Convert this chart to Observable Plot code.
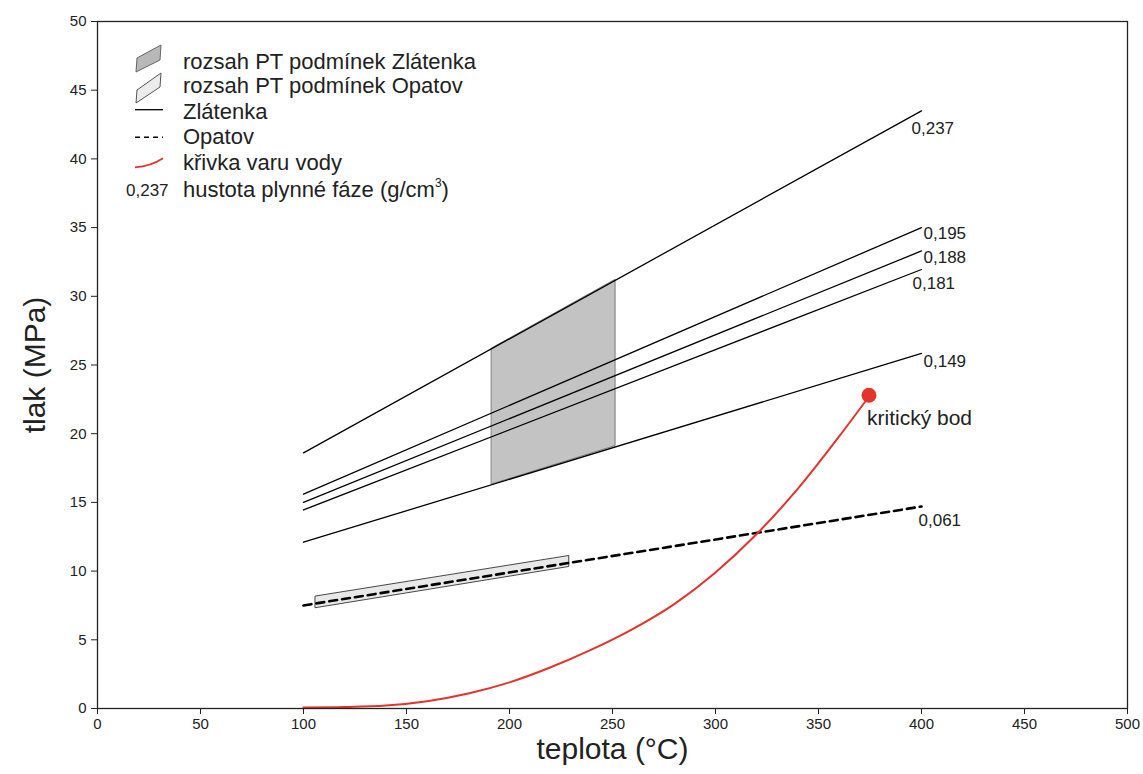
<!DOCTYPE html>
<html><head><meta charset="utf-8">
<script src="https://cdn.jsdelivr.net/npm/d3@7"></script>
<script src="https://cdn.jsdelivr.net/npm/@observablehq/plot@0.6"></script>
<style>
body{margin:0;background:#fff;font-family:"Liberation Sans",Arial,sans-serif;}
#wrap{position:relative;width:1143px;height:774px;}
#legend{position:absolute;left:0;top:0;pointer-events:none;}
</style></head><body>
<div id="wrap"><div id="chart"></div>
<svg id="legend" width="520" height="215" font-family="Liberation Sans, Arial, sans-serif"></svg>
</div>
<script>
// ---- data ----
const densityLabels = ["0,237", "0,195", "0,188", "0,181", "0,149"];
const lineT = [100, 400];
const zlatenkaP100 = [18.6, 15.6, 15.0, 14.45, 12.1];
const zlatenkaP400 = [43.5, 35.0, 33.3, 31.95, 25.85];
const opatovLabel = "0,061";
const opatovP = [7.5, 14.7];
const boilT = [100, 120, 140, 160, 180, 200, 220, 240, 260, 280, 300, 320, 340, 360, 374];
const boilP = [0.08, 0.11, 0.21, 0.53, 1.09, 1.9, 3.0, 4.3, 5.8, 7.6, 9.9, 12.7, 16.0, 19.8, 22.6];
const criticalT = [374.5];
const criticalP = [22.8];
const criticalLabel = ["kritický bod"];
const zlatRangeT = [191.5, 251.5];
const zlatRangeLow = [16.3, 19.1];
const zlatRangeHigh = [26.2, 31.2];
const opRangeT = [106, 229];
const opRangeLow = [7.3, 10.3];
const opRangeHigh = [8.15, 11.1];
const xTicks = [0, 50, 100, 150, 200, 250, 300, 350, 400, 450, 500];
const yTicks = [0, 5, 10, 15, 20, 25, 30, 35, 40, 45, 50];
const legendItems = ["rozsah PT podmínek Zlátenka", "rozsah PT podmínek Opatov", "Zlátenka", "Opatov", "křivka varu vody"];

// ---- tables ----
const zlatLines = densityLabels.flatMap((d, i) => [
  {d, t: lineT[0], p: zlatenkaP100[i]},
  {d, t: lineT[1], p: zlatenkaP400[i]}
]);
const opLine = lineT.map((t, i) => ({t, p: opatovP[i]}));
const boil = boilT.map((t, i) => ({t, p: boilP[i]}));
const crit = criticalT.map((t, i) => ({t, p: criticalP[i], label: criticalLabel[i]}));
const zlatRange = zlatRangeT.map((t, i) => ({t, lo: zlatRangeLow[i], hi: zlatRangeHigh[i]}));
const opRange = opRangeT.map((t, i) => ({t, lo: opRangeLow[i], hi: opRangeHigh[i]}));

const labelOffsets = {"0,237": [-10, 18], "0,195": [2, 6], "0,188": [2, 7], "0,181": [-9, 14], "0,149": [2, 8]};
const red = "#e3342b";
const font = "Liberation Sans, Arial, sans-serif";

const endLabelMarks = densityLabels.map((d, i) => Plot.text([{t: lineT[1], p: zlatenkaP400[i], d}], {
  x: "t", y: "p", text: "d", textAnchor: "start", dx: labelOffsets[d][0], dy: labelOffsets[d][1],
  fontSize: 17, fill: "#222"
}));

const plot = Plot.plot({
  width: 1143, height: 774,
  marginLeft: 97, marginRight: 16, marginTop: 21, marginBottom: 66,
  x: {domain: [0, 500]},
  y: {domain: [0, 50]},
  style: {fontFamily: font, background: "white", overflow: "visible"},
  marks: [
    Plot.areaY(zlatRange, {x: "t", y1: "lo", y2: "hi", fill: "#c3c3c3", stroke: "#7a7a7a", strokeWidth: 1}),
    Plot.areaY(opRange, {x: "t", y1: "lo", y2: "hi", fill: "#e8e8e8", stroke: "#333", strokeWidth: 0.9}),
    Plot.line(zlatLines, {x: "t", y: "p", z: "d", stroke: "black", strokeWidth: 1.3}),
    Plot.line(opLine, {x: "t", y: "p", stroke: "black", strokeWidth: 2.6, strokeDasharray: "8,5"}),
    Plot.line(boil, {x: "t", y: "p", stroke: red, strokeWidth: 2, curve: "monotone-x"}),
    Plot.dot(crit, {x: "t", y: "p", r: 7.5, fill: red}),
    Plot.text(crit, {x: "t", y: "p", text: "label", textAnchor: "start", dx: -2, dy: 23, fontSize: 21, fill: "#222"}),
    ...endLabelMarks,
    Plot.text([{t: lineT[1], p: opatovP[1], d: opatovLabel}], {x: "t", y: "p", text: "d", textAnchor: "start", dx: -3, dy: 14, fontSize: 17, fill: "#222"}),
    Plot.frame({stroke: "#222", strokeWidth: 1.3}),
    Plot.axisX({ticks: xTicks, tickSize: 6, tickPadding: 4, label: null, fontSize: 15, fontFamily: "Liberation Sans Narrow, Arial Narrow, Liberation Sans, sans-serif", color: "#222"}),
    Plot.axisY({ticks: yTicks, tickSize: 6, tickPadding: 5, label: null, fontSize: 15, color: "#222"}),
    Plot.text(["teplota (°C)"], {frameAnchor: "bottom", dy: 50, fontSize: 30, fill: "#222"}),
    Plot.text(["tlak (MPa)"], {frameAnchor: "left", textAnchor: "middle", dx: -62, rotate: -90, fontSize: 30, fill: "#222"})
  ]
});
document.getElementById("chart").appendChild(plot);

// ---- legend (overlay) ----
const lg = d3.select("#legend");
const rowY = [61.7, 85.5, 111.7, 137.3, 163.3, 190];
lg.append("polygon").attr("points", "136,72 137,58 161,45 160,60").attr("fill", "#b8b8b8").attr("stroke", "#666").attr("stroke-width", 1);
lg.append("polygon").attr("points", "136,103 137,90 161,73 160,87").attr("fill", "#ececec").attr("stroke", "#555").attr("stroke-width", 1);
lg.append("line").attr("x1", 135).attr("x2", 163).attr("y1", rowY[2] - 2).attr("y2", rowY[2] - 2).attr("stroke", "black").attr("stroke-width", 1.3);
lg.append("line").attr("x1", 135).attr("x2", 163).attr("y1", rowY[3]).attr("y2", rowY[3]).attr("stroke", "black").attr("stroke-width", 1.6).attr("stroke-dasharray", "5,4");
lg.append("path").attr("d", `M135,${rowY[4] + 4} Q151,${rowY[4] + 3} 163,${rowY[4] - 5}`).attr("fill", "none").attr("stroke", red).attr("stroke-width", 1.8);
legendItems.forEach((s, i) => {
  lg.append("text").attr("x", 183).attr("y", rowY[i] + 7).attr("font-size", 22).attr("fill", "#222").text(s);
});
lg.append("text").attr("x", 126).attr("y", rowY[5] + 6).attr("font-size", 17).attr("fill", "#222").text(densityLabels[0]);
const last = lg.append("text").attr("x", 183).attr("y", rowY[5] + 7).attr("font-size", 22).attr("fill", "#222");
last.append("tspan").text("hustota plynné fáze (g/cm");
last.append("tspan").attr("font-size", 12).attr("dy", -10).text("3");
last.append("tspan").attr("dy", 10).text(")");
</script>
</body></html>
